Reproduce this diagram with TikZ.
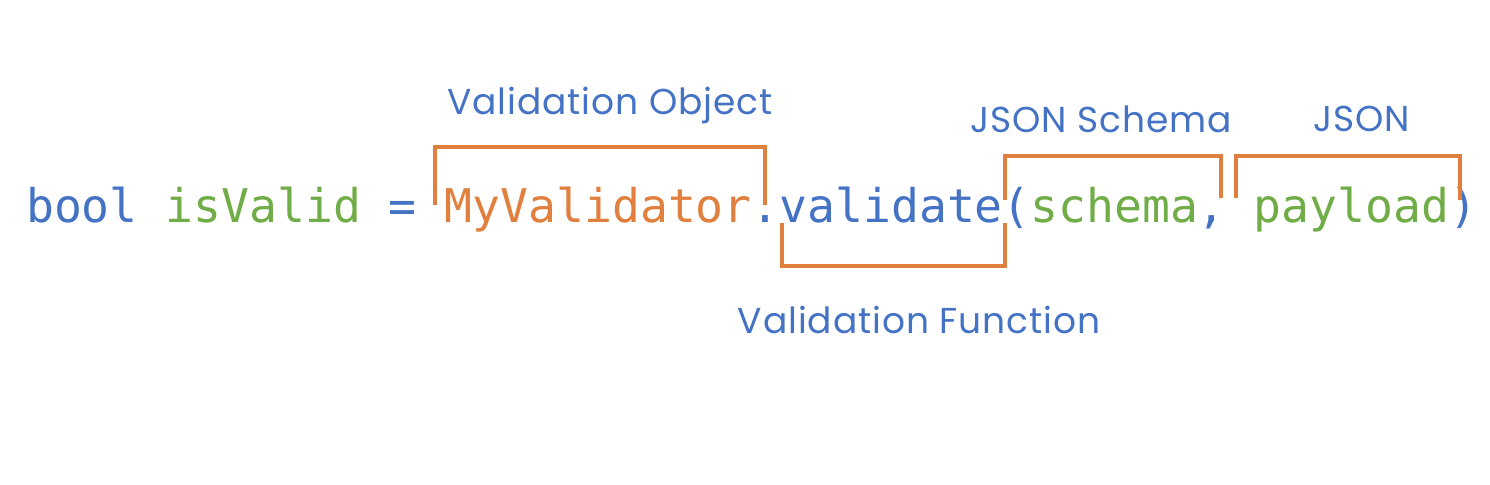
\documentclass[tikz,border=0pt]{standalone}
\usepackage{fontspec}
\newfontfamily\codefont{DejaVu Sans Mono}
\newfontfamily\labelfont[LetterSpace=2.5]{Poppins}
\definecolor{cblue}{HTML}{4472C4}
\definecolor{cgreen}{HTML}{70AD47}
\definecolor{corange}{HTML}{E07F3E}
\begin{document}
\begin{tikzpicture}[x=0.5pt,y=-0.5pt,
  code/.style={inner sep=0pt,anchor=base west,font=\codefont\fontsize{23.2}{28}\selectfont},
  lbl/.style={inner sep=0pt,text=cblue,font=\labelfont\fontsize{18}{22}\selectfont},
  brk/.style={draw=corange,line width=2pt,line cap=butt,line join=miter}]
\useasboundingbox (0,0) rectangle (1490,484);
\def\cw{27.9}
\def\xo{25.7}
\node[code,text=cblue]   (bool) at (\xo+0*\cw,222) {bool};
\node[code,text=cgreen]  (isv)  at (\xo+5*\cw,222) {isValid};
\node[code,text=cblue]   (eq)   at (\xo+13*\cw,222) {=};
\node[code,text=corange] (myv)  at (\xo+15*\cw,222) {MyValidator};
\node[code,text=cblue]   (dot)  at (\xo+26*\cw,222) {.};
\node[code,text=cblue]   (val)  at (\xo+27*\cw,222) {validate};
\node[code,text=cblue]   (lp)   at (\xo+35*\cw,222) {(};
\node[code,text=cgreen]  (sch)  at (\xo+36*\cw,222) {schema};
\node[code,text=cblue]   (com)  at (\xo+42*\cw,222) {,};
\node[code,text=cgreen]  (pay)  at (\xo+44*\cw,222) {payload};
\node[code,text=cblue]   (rp)   at (\xo+51*\cw,222) {)};
% brackets
\draw[brk] (435,205) -- (435,147) -- (765,147) -- (765,205);
\draw[brk] (782,223) -- (782,266) -- (1005,266) -- (1005,223);
\draw[brk] (1005,200) -- (1005,156) -- (1221,156) -- (1221,198);
\draw[brk] (1236,198) -- (1236,156) -- (1460,156) -- (1460,200);
% labels
\node[lbl] (lvo) at (610,105) {Validation Object};
\node[lbl] (ljs) at (1101,119) {JSON Schema};
\node[lbl] (lj)  at (1362,119) {JSON};
\node[lbl] (lvf) at (919,320) {Validation Function};
\end{tikzpicture}
\end{document}
